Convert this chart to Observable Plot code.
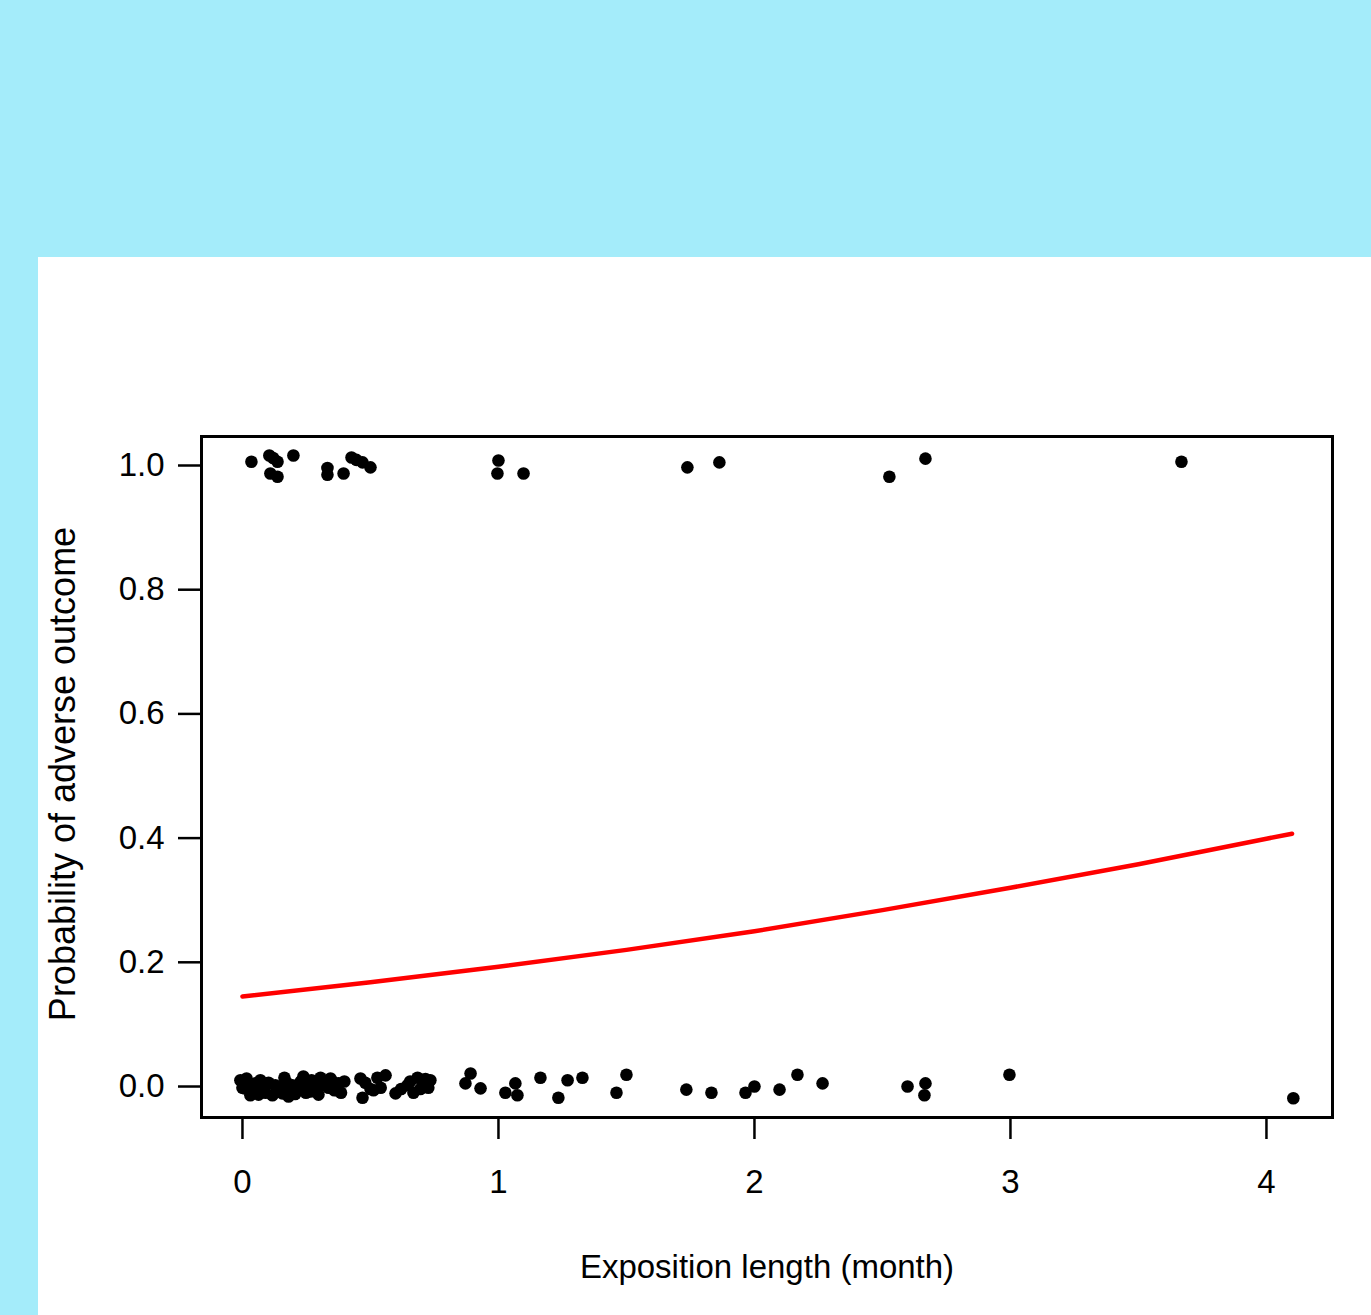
<!DOCTYPE html>
<html>
<head>
<meta charset="utf-8">
<script src="https://cdn.jsdelivr.net/npm/d3@7"></script>
<script src="https://cdn.jsdelivr.net/npm/@observablehq/plot@0.6"></script>
<style>
  html, body { margin: 0; padding: 0; }
  body { width: 1371px; height: 1315px; background: #a4ecfa; position: relative; overflow: hidden; }
  #panel { position: absolute; left: 38px; top: 257px; width: 1333px; height: 1058px; background: #ffffff; }
</style>
</head>
<body>
<div id="panel"></div>
<script>
// Observed outcomes (jittered), x = exposition length in months, y = outcome
const eventX = [0.035, 0.105, 0.137, 0.199, 0.109, 0.137, 0.332, 0.332, 0.395, 0.426, 0.469, 0.500,
  1.000, 0.996, 1.098, 1.738, 1.863, 2.527, 2.668, 3.668, 0.120, 0.445];
const eventY = [1.006, 1.016, 1.006, 1.016, 0.987, 0.982, 0.996, 0.985, 0.987, 1.013, 1.005, 0.997,
  1.008, 0.987, 0.987, 0.997, 1.005, 0.982, 1.011, 1.006, 1.012, 1.009];

const noEventX = [-0.008, 0.008, 0.031, 0.051, 0.078, 0.102, 0.117, 0.141, 0.164, 0.180, 0.195, 0.219,
  0.238, 0.258, 0.281, 0.297, 0.320, 0.344, 0.359, 0.375, 0.016, 0.063, 0.156, 0.305,
  0.371, 0.461, 0.469, 0.527, 0.512, 0.559, 0.598, 0.645, 0.684, 0.707, 0.734, 0.668,
  0.891, 0.871, 0.930, 1.027, 1.066, 1.074, 1.164, 1.270, 1.328, 1.234, 1.500, 1.461,
  1.734, 1.832, 1.965, 2.000, 2.098, 2.168, 2.266, 2.598, 2.668, 2.664, 2.996, 4.105,
  0.000, 0.024, 0.043, 0.070, 0.090, 0.128, 0.150, 0.172, 0.206, 0.228, 0.248, 0.270,
  0.290, 0.312, 0.336, 0.352, 0.385, 0.398, 0.480, 0.500, 0.540, 0.620, 0.655, 0.695,
  0.715, 0.726, 0.060, 0.190, 0.265];
const noEventY = [0.010, -0.003, -0.014, 0.005, -0.006, 0.006, -0.014, -0.003, 0.014, -0.016, 0.002, -0.006,
  0.016, -0.003, 0.006, -0.013, 0.002, 0.013, -0.006, 0.005, 0.013, -0.013, -0.011, 0.014,
  -0.006, 0.013, -0.018, 0.014, -0.006, 0.018, -0.011, 0.002, 0.014, 0.002, 0.010, -0.010,
  0.021, 0.005, -0.003, -0.010, 0.005, -0.014, 0.014, 0.010, 0.014, -0.018, 0.019, -0.010,
  -0.005, -0.010, -0.010, 0.000, -0.005, 0.019, 0.005, 0.000, 0.005, -0.014, 0.019, -0.019,
  -0.002, 0.004, -0.008, 0.010, -0.010, 0.002, -0.008, 0.006, -0.012, 0.008, -0.010, 0.010,
  -0.008, 0.004, -0.002, 0.008, -0.010, 0.008, 0.006, -0.004, -0.002, -0.004, 0.008, -0.004,
  0.012, -0.002, 0.002, -0.004, -0.008];

// Fitted probability curve
const fitX = [0, 0.5, 1, 1.5, 2, 2.5, 3, 3.5, 4, 4.1];
const fitP = [0.145, 0.168, 0.193, 0.220, 0.250, 0.284, 0.320, 0.358, 0.399, 0.407];

const xTicks = [0, 1, 2, 3, 4];
const yTicks = [0, 0.2, 0.4, 0.6, 0.8, 1.0];
const xTitle = "Exposition length (month)";
const yTitle = "Probability of adverse outcome";

const points = eventX.map((x, i) => ({x, y: eventY[i]}))
  .concat(noEventX.map((x, i) => ({x, y: noEventY[i]})));
const fit = fitX.map((x, i) => ({x, p: fitP[i]}));

const font = "'Liberation Sans', Arial, Helvetica, sans-serif";

const chart = Plot.plot({
  width: 1333,
  height: 1058,
  marginLeft: 163,
  marginRight: 39,
  marginTop: 179,
  marginBottom: 198,
  style: {fontFamily: font, fontSize: "33px", background: "white", color: "black"},
  x: {domain: [-0.160, 4.258]},
  y: {domain: [-0.0499, 1.0467]},
  marks: [
    Plot.frame({stroke: "black", strokeWidth: 3}),
    Plot.axisY({ticks: yTicks, tickFormat: d3.format(".1f"), tickSize: 23, tickPadding: 14, strokeWidth: 2.5, label: null, fontSize: 33}),
    Plot.axisX({ticks: xTicks, tickFormat: d3.format("d"), tickSize: 22, tickPadding: 30, strokeWidth: 2.5, label: null, fontSize: 33}),
    Plot.line(fit, {x: "x", y: "p", stroke: "#ff0000", strokeWidth: 4.5}),
    Plot.dot(points, {x: "x", y: "y", r: 6.3, fill: "black", stroke: "none"}),
    Plot.text([xTitle], {frameAnchor: "bottom", dy: 160, fontSize: 33, fill: "black"}),
    Plot.text([yTitle], {frameAnchor: "left", dx: -138, dy: -3, rotate: -90, textAnchor: "middle", fontSize: 36, fill: "black"})
  ]
});
document.getElementById("panel").appendChild(chart);
</script>
</body>
</html>
